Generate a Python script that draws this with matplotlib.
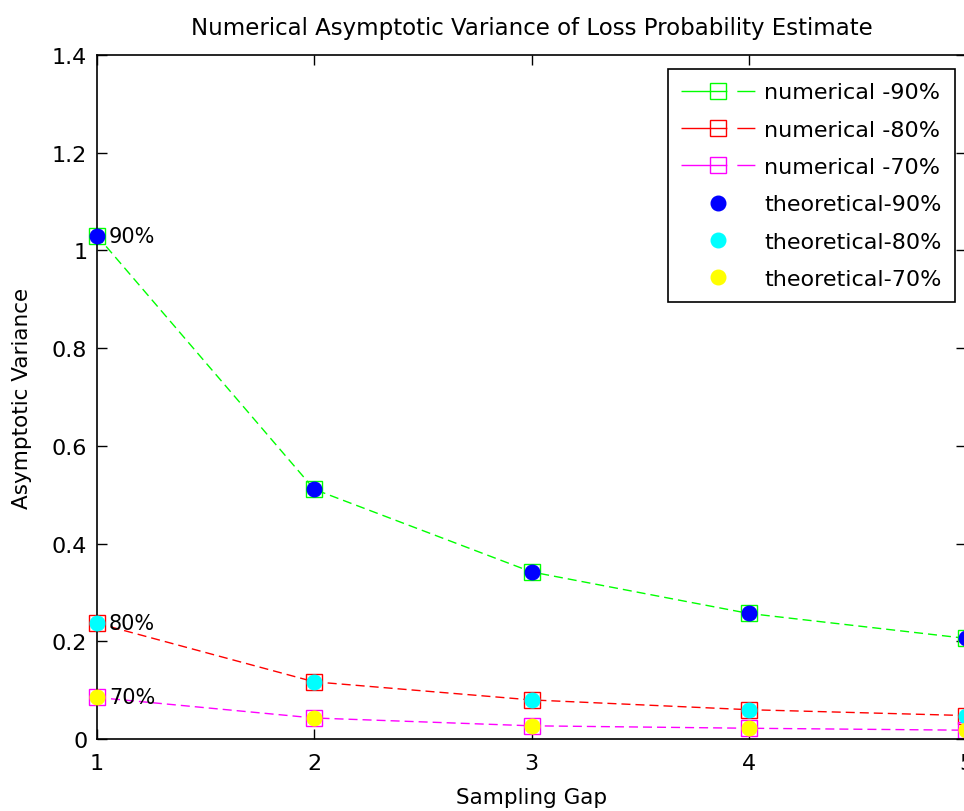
import matplotlib
matplotlib.use("Agg")
import matplotlib.pyplot as plt
from matplotlib.lines import Line2D

plt.rcParams['font.family'] = ['DejaVu Sans']
plt.rcParams['lines.scale_dashes'] = False

gaps = [1, 2, 3, 4, 5]
num_90 = [1.030, 0.511, 0.342, 0.257, 0.206]
num_80 = [0.237, 0.117, 0.080, 0.060, 0.048]
num_70 = [0.085, 0.043, 0.027, 0.022, 0.018]
theo_90 = [1.030, 0.511, 0.342, 0.257, 0.206]
theo_80 = [0.237, 0.117, 0.080, 0.060, 0.048]
theo_70 = [0.085, 0.043, 0.027, 0.022, 0.018]
xticks = [1, 2, 3, 4, 5]
yticks = [0, 0.2, 0.4, 0.6, 0.8, 1.0, 1.2, 1.4]
ytick_labels = ['0', '0.2', '0.4', '0.6', '0.8', '1', '1.2', '1.4']
annot = ['90%', '80%', '70%']

fig = plt.figure(figsize=(9.64, 8.12), dpi=100)
ax = fig.add_axes([97/964, 1-740/812, (966-97)/964, (740-56)/812])

dash = (6.5, 3.6)
numcolors = ['#00ff00', '#ff0000', '#ff00ff']
theocolors = ['#0000ff', '#00ffff', '#ffff00']
numlabels = ['numerical -90%', 'numerical -80%', 'numerical -70%']
theolabels = ['theoretical-90%', 'theoretical-80%', 'theoretical-70%']

handles = []
for ys, c, lab in zip([num_90, num_80, num_70], numcolors, numlabels):
    ax.plot(gaps, ys, color=c, lw=1.0, dashes=dash, marker='s', ms=12,
            mfc='none', mec=c, mew=1.0, clip_on=False)
    handles.append(Line2D([], [], color=c, lw=1.0, dashes=(33, 7.2, 13, 7.2),
                          marker='s', ms=12, mfc='none', mec=c, mew=1.0, label=lab))
for ys, c, lab in zip([theo_90, theo_80, theo_70], theocolors, theolabels):
    h, = ax.plot(gaps, ys, ls='none', marker='o', ms=10.5, mfc=c, mec=c,
                 label=lab, clip_on=False, zorder=5)
    handles.append(h)

for ys, t in zip([num_90, num_80, num_70], annot):
    ax.text(gaps[0] + 0.055, ys[0], t, fontsize=15, va='center', ha='left')

ax.set_xlim(1, 5)
ax.set_ylim(0, 1.4)
ax.set_xticks(xticks)
ax.set_xticklabels([str(v) for v in xticks])
ax.set_yticks(yticks)
ax.set_yticklabels(ytick_labels)
ax.tick_params(direction='in', length=7, width=1, top=True, right=True,
               labelsize=16, pad=10)
ax.tick_params(axis='y', pad=7)
for s in ax.spines.values():
    s.set_linewidth(1.2)

ax.set_title('Numerical Asymptotic Variance of Loss Probability Estimate',
             fontsize=16.5, pad=15)
ax.set_xlabel('Sampling Gap', fontsize=15.5, labelpad=10)
ax.set_ylabel('Asymptotic Variance', fontsize=15.5, labelpad=14)

leg = ax.legend(handles=handles, loc='upper right',
                bbox_to_anchor=(955/964, 1-70/812), bbox_transform=fig.transFigure,
                fontsize=16, frameon=True, fancybox=False, edgecolor='black',
                framealpha=1, handlelength=3.35, labelspacing=0.78,
                borderpad=0.6, handletextpad=0.4, borderaxespad=0)
leg.get_frame().set_linewidth(1.2)

fig.savefig('out.png', dpi=100)
